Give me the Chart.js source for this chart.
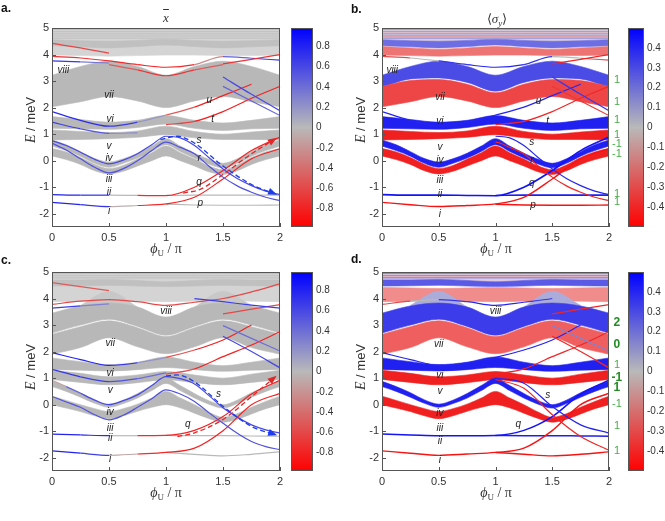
<!DOCTYPE html>
<html>
<head>
<meta charset="utf-8">
<script src="https://cdn.jsdelivr.net/npm/chart.js@4.4.0/dist/chart.umd.min.js"></script>
<style>
  body { margin: 0; background: #fff; width: 665px; height: 521px; position: relative; overflow: hidden;
         font-family: "Liberation Sans", Arial, sans-serif; color: #333; }
  .cv { position: absolute; }
  .t { position: absolute; white-space: nowrap; line-height: 1; }
  .pl { font: bold 12px "Liberation Sans", Arial, sans-serif; color: #111; }
  .ttl { font: 13px "Liberation Serif", serif; transform: translate(-50%, -50%); }
  .yt { font: 13px "Liberation Sans", Arial, sans-serif; transform: translate(-50%, -50%) rotate(-90deg); }
  .xt { font: 14px "Liberation Serif", serif; transform: translate(-50%, -50%); }
  .ser { font-family: "Liberation Serif", serif; font-style: italic; font-size: 14px; }
  sub { font-size: 9px; vertical-align: -3px; }
</style>
</head>
<body>
<div class="cv" style="left:0;top:0"><canvas id="pa" width="290" height="260"></canvas></div>
<div class="cv" style="left:291px;top:0"><canvas id="ca" width="48" height="260"></canvas></div>
<div class="cv" style="left:330px;top:0"><canvas id="pb" width="296" height="260"></canvas></div>
<div class="cv" style="left:628px;top:0"><canvas id="cb" width="37" height="260"></canvas></div>
<div class="cv" style="left:0;top:244px"><canvas id="pc" width="290" height="260"></canvas></div>
<div class="cv" style="left:291px;top:244px"><canvas id="cc" width="48" height="260"></canvas></div>
<div class="cv" style="left:330px;top:244px"><canvas id="pd" width="296" height="260"></canvas></div>
<div class="cv" style="left:628px;top:244px"><canvas id="cd" width="37" height="260"></canvas></div>

<div class="t pl" style="left:1px;top:1px">a.</div>
<div class="t pl" style="left:351px;top:2px">b.</div>
<div class="t pl" style="left:1px;top:253px">c.</div>
<div class="t pl" style="left:351px;top:252px">d.</div>

<div class="t ttl" style="left:166px;top:18px"><i style="text-decoration:overline">x</i></div>
<div class="t ttl" style="left:497px;top:19px">⟨<i>σ</i><sub><i>y</i></sub>⟩</div>

<div class="t yt" style="left:31px;top:120px"><span class="ser">E</span> / meV</div>
<div class="t yt" style="left:361px;top:120px"><span class="ser">E</span> / meV</div>
<div class="t yt" style="left:31px;top:367px"><span class="ser">E</span> / meV</div>
<div class="t yt" style="left:361px;top:367px"><span class="ser">E</span> / meV</div>

<div class="t xt" style="left:166px;top:249px"><i>ϕ</i><sub>U</sub> / π</div>
<div class="t xt" style="left:496px;top:249px"><i>ϕ</i><sub>U</sub> / π</div>
<div class="t xt" style="left:166px;top:493px"><i>ϕ</i><sub>U</sub> / π</div>
<div class="t xt" style="left:496px;top:493px"><i>ϕ</i><sub>U</sub> / π</div>

<script>
Chart.defaults.font.family = '"Liberation Sans", Arial, sans-serif';
Chart.defaults.font.size = 11;
Chart.defaults.color = '#333';

// ---- axes ----
const GRID = [0, 0.25, 0.5, 0.75, 1, 1.25, 1.5, 1.75, 2];
const FINE = [0, 0.125, 0.25, 0.375, 0.5, 0.625, 0.75, 0.875, 1, 1.125, 1.25, 1.375, 1.5, 1.625, 1.75, 1.875, 2];
const X_TICKS = [0, 0.5, 1, 1.5, 2];
const Y_TICKS = [-2, -1, 0, 1, 2, 3, 4, 5];
const BAR_TICKS_X = [-0.8, -0.6, -0.4, -0.2, 0, 0.2, 0.4, 0.6, 0.8];
const BAR_TICKS_S = [-0.4, -0.3, -0.2, -0.1, 0, 0.1, 0.2, 0.3, 0.4];
const XBAR_MAX = 0.98;
const SIG_MAX = 0.5;

// ---- top row spectrum (a, b): bands ----
const topContLo = [3.98, 3.96, 3.94, 3.96, 3.98, 3.98, 3.96, 3.96, 3.98];
const topContMid = [4.3, 4.25, 4.2, 4.25, 4.3, 4.25, 4.2, 4.25, 4.3];
const topContBlueLo = [4.33, 4.29, 4.25, 4.3, 4.36, 4.3, 4.25, 4.29, 4.33];
const topContBlueHi = [4.56, 4.52, 4.5, 4.53, 4.58, 4.53, 4.5, 4.52, 4.56];
const topContHi = [5.1, 5.1, 5.1, 5.1, 5.1, 5.1, 5.1, 5.1, 5.1];
const topStripes = [4.62, 4.7, 4.78, 4.86, 4.94];
const top8Hi = [3.22, 3.55, 3.75, 3.55, 3.22, 3.55, 3.75, 3.55, 3.22];
const top8Lo = [2.78, 3.08, 3.12, 2.95, 2.62, 2.95, 3.12, 3.08, 2.78];
const top7Hi = [2.8, 3.02, 3.06, 2.88, 2.56, 2.88, 3.06, 3.02, 2.8];
const top7Lo = [2.03, 2.22, 2.42, 2.25, 2.0, 2.25, 2.42, 2.22, 2.03];
const top6Hi = [1.66, 1.55, 1.45, 1.52, 1.7, 1.52, 1.42, 1.52, 1.66];
const top6Lo = [1.22, 1.2, 1.18, 1.25, 1.38, 1.22, 1.14, 1.2, 1.22];
const top5Hi = [1.16, 1.1, 1.06, 1.12, 1.3, 1.1, 1.0, 1.08, 1.16];
const top5Lo = [0.78, 0.8, 0.83, 0.88, 0.98, 0.86, 0.8, 0.8, 0.78];
const top4Hi = [0.78, 0.6, 0.34, 0.08, -0.05, 0.07, 0.28, 0.55, 0.83, 0.55, 0.28, 0.05, -0.1, 0.07, 0.34, 0.6, 0.78];
const top4Lo = [0.55, 0.38, 0.17, -0.1, -0.25, -0.1, 0.1, 0.35, 0.6, 0.35, 0.1, -0.13, -0.27, -0.1, 0.17, 0.38, 0.55];
const top3Hi = [0.46, 0.33, 0.12, -0.14, -0.3, -0.18, 0.06, 0.3, 0.55, 0.3, 0.06, -0.2, -0.34, -0.16, 0.12, 0.33, 0.46];
const top3Lo = [0.18, 0.04, -0.14, -0.38, -0.5, -0.4, -0.2, 0.0, 0.18, 0.0, -0.2, -0.42, -0.52, -0.38, -0.14, 0.04, 0.18];

// ---- top row spectrum: single levels ----
const topI = [-1.57, -1.66, -1.73, -1.69, -1.63, -1.38, -0.69, 0.07, 0.45];
const topIflat = [null, null, null, null, -1.64, -1.67, -1.68, -1.68, -1.67];
const topII = [-1.28, -1.3, -1.3, -1.31, -1.32, -1.0, -0.37, 0.38, 0.89];
const topIIflat = [null, null, null, null, -1.31, -1.3, -1.3, -1.3, -1.3];
const topV = [0.76, 0.57, 0.32, 0.05, -0.12, 0.02, 0.26, 0.6, 0.92, 0.86, 0.57, 0.12, -0.31, -0.67, -0.94, -1.15, -1.28];
const topIV = [0.66, 0.4, 0.07, -0.25, -0.46, -0.3, 0.0, 0.38, 0.7, 0.5, 0.26, -0.2, -0.62, -0.95, -1.19, -1.38, -1.51];
const topU = [1.85, 1.52, 1.3, 1.45, 1.72, 2.02, 2.45, 2.88, null];
const topVi2 = [1.45, 1.2, 1.03, 1.05, null, null, null, null, null];
const topT = [null, null, null, null, 1.36, 1.48, 1.85, 2.35, 2.8];
const topD1 = [null, null, null, null, null, null, 3.15, 2.5, 1.88];
const topD2 = [null, null, null, null, null, null, 2.8, 2.25, 1.7];
const topL1 = [3.93, 3.87, 3.76, 3.62, 3.52, 3.62, 3.92, 3.86, 3.79];
const topL2 = [null, null, 3.62, 3.42, 3.2, 3.42, 3.62, null, null];
const topL3 = [4.42, 4.25, 4.05, null, null, null, null, null, null];
const topL4 = [null, null, null, null, null, null, 3.65, 3.82, 4.0];
const topL5 = [3.76, 3.72, 3.68, null, null, null, null, null, null];
const topDashBlueX = [0.95, 1.1, 1.25, 1.5, 1.75, 1.95];
const topDashBlueY = [0.8, 0.92, 0.66, -0.2, -0.9, -1.24];
const topDashRedX = [1.15, 1.3, 1.5, 1.75, 1.95];
const topDashRedY = [-1.22, -1.08, -0.52, 0.26, 0.8];

// panel a colour values (x bar)
const xbarI = [0.8, 0.8, 0.6, -0.7, -0.8, -0.8, -0.8, -0.8, -0.8];
const xbarII = [0.8, 0.8, 0.7, -0.7, -0.8, -0.8, -0.8, -0.8, -0.8];
const xbarU = [0.75, 0.75, 0.75, 0.6, -0.2, -0.8, -0.8, -0.8, null];
const xbarVi2 = [0.7, 0.6, 0.4, 0.1, null, null, null, null, null];
const xbarT = [null, null, null, null, -0.4, -0.8, -0.8, -0.8, -0.8];
const xbarL1 = [-0.7, -0.7, -0.7, -0.8, -0.8, -0.7, 0.2, 0.7, 0.7];
const xbarL2 = [null, null, -0.3, -0.7, -0.7, -0.7, -0.3, null, null];
const xbarL5 = [0.8, 0.6, 0.1, null, null, null, null, null, null];
// panel b colour values (sigma y)
const sigV = [null, null, null, null, null, null, null, null, 0.4, 0.4, 0.4, 0.4, 0.4, 0.4, 0.4, 0.4, 0.4];
const sigIV = [null, null, null, null, null, null, null, null, -0.4, -0.4, -0.4, -0.4, -0.4, -0.4, -0.4, -0.4, -0.4];
const sigL1 = [-0.3, -0.3, 0.3, 0.4, 0.4, 0.4, 0.3, -0.3, -0.3];
const sigTopStripes = [0.2, -0.25, 0.15, -0.2, 0.1];
const windB = ['1', '1', '1', '1', '-1', '-1', '1', '1'];
const windBy = [3.03, 2.21, 1.52, 0.95, 0.64, 0.26, -1.25, -1.57];

// ---- bottom row spectrum (c, d): bands ----
const botContLo = [3.88, 3.9, 3.92, 3.9, 3.88, 3.9, 3.92, 3.9, 3.88];
const botContMid = [4.42, 4.4, 4.38, 4.4, 4.42, 4.4, 4.38, 4.4, 4.42];
const botContBlueLo = [4.47, 4.48, 4.5, 4.47, 4.45, 4.47, 4.5, 4.48, 4.47];
const botContBlueHi = [4.7, 4.7, 4.72, 4.68, 4.63, 4.68, 4.72, 4.7, 4.7];
const botContHi = [5.1, 5.1, 5.1, 5.1, 5.1, 5.1, 5.1, 5.1, 5.1];
const botStripes = [4.78, 4.86, 4.94];
const botCapLo = [null, 3.74, 3.83, 3.68, null, 3.68, 3.83, 3.74, null];
const botCapHi = [null, 3.74, 4.27, 3.68, null, 3.68, 4.27, 3.74, null];
const bot8Hi = [3.45, 3.72, 3.83, 3.68, 3.3, 3.68, 3.83, 3.72, 3.45];
const bot8Lo = [2.7, 3.0, 3.22, 2.95, 2.62, 2.95, 3.22, 3.0, 2.7];
const bot7Hi = [2.65, 2.94, 3.16, 2.9, 2.57, 2.9, 3.16, 2.94, 2.65];
const bot7Lo = [1.9, 2.15, 2.52, 2.18, 1.92, 2.18, 2.52, 2.15, 1.9];
const bot6Hi = [1.76, 1.62, 1.51, 1.6, 1.8, 1.6, 1.47, 1.6, 1.76];
const bot6Lo = [1.33, 1.3, 1.27, 1.32, 1.4, 1.32, 1.26, 1.3, 1.33];
const bot5Hi = [1.3, 1.18, 1.05, 1.12, 1.25, 1.12, 1.0, 1.15, 1.3];
const bot5Lo = [0.95, 0.84, 0.75, 0.83, 0.94, 0.83, 0.75, 0.84, 0.95];
const bot4Hi = [0.88, 0.68, 0.45, 0.18, 0.02, 0.17, 0.42, 0.72, 1.0, 0.72, 0.42, 0.15, 0.0, 0.17, 0.45, 0.68, 0.88];
const bot4Lo = [0.68, 0.5, 0.28, 0.05, -0.1, 0.04, 0.25, 0.53, 0.8, 0.53, 0.25, 0.02, -0.13, 0.04, 0.28, 0.5, 0.68];
const bot3Hi = [0.32, 0.16, 0.0, -0.15, -0.26, -0.15, 0.02, 0.25, 0.5, 0.25, 0.0, -0.28, -0.48, -0.34, -0.1, 0.12, 0.32];
const bot3Lo = [0.0, -0.13, -0.26, -0.42, -0.53, -0.42, -0.25, -0.1, 0.0, -0.12, -0.32, -0.52, -0.66, -0.55, -0.35, -0.15, 0.0];

// ---- bottom row spectrum: single levels ----
const botI = [-1.74, -1.83, -1.91, -1.86, -1.8, -1.64, -0.98, 0.0, 0.43];
const botIflat = [null, null, null, null, -1.8, -1.87, -1.93, -1.87, -1.78];
const botII = [-1.11, -1.14, -1.17, -1.17, -1.16, -0.97, -0.45, 0.4, 0.92];
const botIIflat = [null, null, null, null, -1.16, -1.17, -1.17, -1.18, -1.19];
const botV = [0.92, 0.68, 0.43, 0.17, 0.0, 0.15, 0.37, 0.72, 1.06, 0.98, 0.78, 0.35, -0.12, -0.47, -0.76, -0.95, -1.07];
const botIV = [0.31, 0.1, -0.1, -0.38, -0.57, -0.4, -0.1, 0.22, 0.56, 0.4, 0.12, -0.3, -0.7, -1.08, -1.39, -1.58, -1.7];
const botS = [null, null, null, null, 1.0, 0.81, -0.07, -0.76, -1.07];
const botR = [null, null, null, null, 0.95, 0.62, -0.38, -1.2, -1.72];
const botU = [1.96, 1.7, 1.48, 1.58, 1.78, 2.06, 2.44, 3.0, null];
const botVi2 = [1.33, 1.05, 0.87, 0.98, 1.2, null, null, null, null];
const botT = [null, null, null, null, 1.15, 1.35, 1.81, 2.25, 2.75];
const botD1 = [null, null, null, null, null, null, 2.58, 2.0, 1.39];
const botD2 = [null, null, null, null, null, null, 2.98, 2.5, 2.02];
const botL1 = [3.78, 3.9, 3.96, 3.88, 3.74, 3.86, 4.0, 4.25, 4.55];
const botL2 = [3.64, 3.72, 3.8, null, null, null, null, null, null];
const botL3 = [4.6, 4.45, 4.3, null, null, null, null, null, null];
const botL5 = [null, null, null, null, null, null, 3.42, 3.6, 3.77];
const botL6 = [null, null, null, null, null, 4.0, 3.88, 3.75, 3.64];
const botDashBlueX = [1.0, 1.1, 1.25, 1.5, 1.75, 1.95];
const botDashBlueY = [1.08, 1.12, 0.86, -0.06, -0.82, -1.12];
const botDashRedX = [1.1, 1.25, 1.5, 1.75, 1.95];
const botDashRedY = [-1.2, -1.06, -0.56, 0.3, 1.02];

// panel c colour values (x bar)
const xbarCI = [0.8, 0.8, 0.5, -0.7, -0.8, -0.8, -0.8, -0.8, -0.8];
const xbarCII = [0.8, 0.8, 0.7, -0.7, -0.8, -0.8, -0.8, -0.8, -0.8];
const xbarCV = [-0.5, 0.3, 0.6, 0.6, 0.6, 0.6, 0.6, 0.6, 0.6, 0.6, 0.6, 0.6, 0.6, 0.6, 0.6, 0.6, 0.6];
const xbarCU = [0.8, 0.8, 0.8, 0.7, -0.3, -0.8, -0.8, -0.8, null];
const xbarCVi2 = [0.7, 0.7, 0.6, 0.5, 0.3, null, null, null, null];
const xbarCT = [null, null, null, null, -0.3, -0.8, -0.8, -0.8, -0.8];
const xbarCL2 = [0.8, 0.5, 0.1, null, null, null, null, null, null];
// panel d colour values (sigma y)
const sigDL1 = [-0.3, -0.3, 0.3, 0.4, 0.4, 0.4, 0.3, null, null];
const sigBotStripes = [0.25, -0.3, 0.2];
const windD = ['2', '0', '1', '-1', '1', '-1', '1', '1'];
const windDy = [3.08, 2.26, 1.51, 1.01, 0.63, 0.01, -0.81, -1.75];
const windDbold = [true, true, false, true, true, false, false, false];

// ---- styles ----
const GRAY = 'rgb(184,184,184)';
const GRAY_MID = 'rgb(192,192,192)';
const GRAY_LIGHT = 'rgb(212,212,212)';
const RED = 'rgb(240,32,32)';
const BLUE = 'rgb(32,32,240)';
const ROMAN_FONT = 'italic 10px "Liberation Sans", Arial, sans-serif';

function cmap(v, vmax) {
  const t = Math.max(-1, Math.min(1, v / vmax));
  const end = t >= 0 ? [0, 0, 255] : [255, 0, 0];
  const a = Math.abs(t);
  const c = [185, 185, 185].map((g, i) => Math.round(g + (end[i] - g) * a));
  return 'rgb(' + c.join(',') + ')';
}

function pts(xs, ys) {
  return xs.map((x, i) => ({ x: x, y: ys[i] }));
}

function band(xs, lo, hi, color) {
  return [
    { data: pts(xs, lo), borderWidth: 0.6, borderColor: color, pointRadius: 0, fill: false },
    { data: pts(xs, hi), borderWidth: 0.6, borderColor: color, pointRadius: 0, fill: '-1', backgroundColor: color }
  ];
}

function curve(xs, ys, cols, vmax, width) {
  const colAt = i => Array.isArray(cols) ? cols[i] : cols;
  const first = Array.isArray(cols) ? cols.find(c => c != null) : cols;
  return {
    data: pts(xs, ys), pointRadius: 0, fill: false,
    borderWidth: width || 1.2,
    borderColor: cmap(first, vmax),
    segment: {
      borderColor: ctx => {
        const a = colAt(ctx.p0DataIndex), b = colAt(ctx.p1DataIndex);
        if (a == null || b == null) return 'rgba(0,0,0,0)';
        return cmap((a + b) / 2, vmax);
      }
    }
  };
}

function dashed(xs, ys, color) {
  return { data: pts(xs, ys), borderColor: color, borderWidth: 1.3, borderDash: [5, 3],
           pointRadius: 0, fill: false, arrowHead: color };
}

function makeFrame(withTicks) {
  return {
    id: 'frame',
    afterDraw(chart) {
      const { ctx, chartArea: a } = chart;
      ctx.save();
      ctx.strokeStyle = '#555';
      ctx.lineWidth = 1;
      ctx.strokeRect(Math.round(a.left) + 0.5, Math.round(a.top) + 0.5, Math.round(a.width) - 1, Math.round(a.height) - 1);
      if (withTicks) {
        const { x, y } = chart.scales;
        ctx.beginPath();
        X_TICKS.forEach(v => {
          const px = Math.round(x.getPixelForValue(v)) + 0.5;
          ctx.moveTo(px, a.bottom); ctx.lineTo(px, a.bottom - 4);
        });
        Y_TICKS.forEach(v => {
          const py = Math.round(y.getPixelForValue(v)) + 0.5;
          ctx.moveTo(a.left, py); ctx.lineTo(a.left + 4, py);
        });
        ctx.stroke();
      }
      ctx.restore();
    }
  };
}

function makeTexts(items) {
  return {
    id: 'texts',
    afterDraw(chart) {
      const { ctx, scales: { x, y } } = chart;
      items.forEach(it => {
        ctx.save();
        ctx.font = it.font;
        ctx.fillStyle = it.color;
        ctx.textAlign = 'center';
        ctx.textBaseline = 'middle';
        ctx.fillText(it.t, x.getPixelForValue(it.x), y.getPixelForValue(it.y));
        ctx.restore();
      });
    }
  };
}

const arrowPlugin = {
  id: 'arrows',
  afterDatasetsDraw(chart) {
    const ctx = chart.ctx;
    chart.data.datasets.forEach((ds, i) => {
      if (!ds.arrowHead) return;
      const p = chart.getDatasetMeta(i).data;
      const p1 = p[p.length - 1], p0 = p[p.length - 2];
      const ang = Math.atan2(p1.y - p0.y, p1.x - p0.x);
      ctx.save();
      ctx.translate(p1.x, p1.y);
      ctx.rotate(ang);
      ctx.beginPath();
      ctx.moveTo(3, 0); ctx.lineTo(-6, -3.5); ctx.lineTo(-6, 3.5); ctx.closePath();
      ctx.fillStyle = ds.arrowHead;
      ctx.fill();
      ctx.restore();
    });
  }
};

function roman(list) {
  return list.map(r => ({ t: r[0], x: r[1], y: r[2], font: ROMAN_FONT, color: '#222' }));
}

function winding(labels, ys, bold) {
  return labels.map((t, i) => ({
    t: t, x: 2.07, y: ys[i],
    font: (bold && bold[i] ? 'bold 12px' : '11px') + ' "Liberation Sans", Arial, sans-serif',
    color: bold && bold[i] ? 'rgb(35,140,35)' : 'rgb(70,175,70)'
  }));
}

function drawPanel(id, vmax, bands, curves, dashes, texts, padRight) {
  const ds = [];
  bands.forEach(b => ds.push(...band(b[0], b[1], b[2], b[3])));
  curves.forEach(c => ds.push(curve(c[0], c[1], c[2], vmax, c[3])));
  dashes.forEach(d => ds.push(dashed(d[0], d[1], d[2])));
  ds.forEach((d, i) => { d.order = ds.length - i; });
  new Chart(document.getElementById(id), {
    type: 'line',
    data: { datasets: ds },
    options: {
      responsive: false, animation: false, events: [],
      layout: { padding: { left: 0, top: 28, right: padRight, bottom: 0 } },
      elements: { line: { cubicInterpolationMode: 'monotone' }, point: { radius: 0 } },
      plugins: { legend: { display: false }, tooltip: { enabled: false } },
      scales: {
        x: {
          type: 'linear', min: 0, max: 2,
          afterBuildTicks: s => { s.ticks = X_TICKS.map(v => ({ value: v })); },
          afterFit: s => { s.height = 33; },
          grid: { display: false, drawTicks: false }, border: { display: false },
          ticks: { padding: 4, autoSkip: false, maxRotation: 0, callback: v => String(v) }
        },
        y: {
          type: 'linear', min: -2.5, max: 5,
          afterBuildTicks: s => { s.ticks = Y_TICKS.map(v => ({ value: v })); },
          afterFit: s => { s.width = 52; },
          grid: { display: false, drawTicks: false }, border: { display: false },
          ticks: { padding: 3, autoSkip: false, callback: v => String(v) }
        }
      }
    },
    plugins: [makeFrame(true), makeTexts(texts), arrowPlugin]
  });
}

function drawBar(id, vmax, ticks, width) {
  new Chart(document.getElementById(id), {
    type: 'bar',
    data: {
      labels: [''],
      datasets: [{
        data: [[-vmax, vmax]], borderWidth: 0, barPercentage: 1, categoryPercentage: 1,
        backgroundColor: ctx => {
          const a = ctx.chart.chartArea;
          if (!a) return GRAY;
          const g = ctx.chart.ctx.createLinearGradient(0, a.bottom, 0, a.top);
          g.addColorStop(0, 'rgb(255,0,0)');
          g.addColorStop(0.5, 'rgb(185,185,185)');
          g.addColorStop(1, 'rgb(0,0,255)');
          return g;
        }
      }]
    },
    options: {
      responsive: false, animation: false, events: [],
      layout: { padding: { left: 0, top: 28, right: 0, bottom: 33 } },
      plugins: { legend: { display: false }, tooltip: { enabled: false } },
      scales: {
        x: { display: false },
        y: {
          position: 'right', min: -vmax, max: vmax,
          afterBuildTicks: s => { s.ticks = ticks.map(v => ({ value: v })); },
          afterFit: s => { s.width = width; },
          grid: { display: false, drawTicks: false }, border: { display: false },
          ticks: { padding: 3, font: { size: 10 }, callback: v => String(v) }
        }
      }
    },
    plugins: [makeFrame(false)]
  });
}

function stripes(levels, cols) {
  return levels.map((l, i) => [[0, 2], [l, l], cols[i], 0.8]);
}

// ---- panel a ----
drawPanel('pa', XBAR_MAX,
  [
    [GRID, topContLo, topContHi, GRAY_LIGHT],
    [GRID, topContBlueLo, topContBlueHi, GRAY_MID],
    [GRID, top7Lo, top8Hi, GRAY],
    [GRID, top6Lo, top6Hi, GRAY],
    [GRID, top5Lo, top5Hi, GRAY],
    [FINE, top4Lo, top4Hi, GRAY],
    [FINE, top3Lo, top3Hi, GRAY]
  ],
  stripes(topStripes, [0, 0, 0, 0, 0]).concat([
    [GRID, topIflat, 0],
    [GRID, topIIflat, 0],
    [GRID, topI, xbarI],
    [GRID, topII, xbarII],
    [FINE, topV, 0.6],
    [FINE, topIV, 0.55],
    [GRID, topU, xbarU],
    [GRID, topVi2, xbarVi2],
    [GRID, topT, xbarT],
    [GRID, topD1, 0.6],
    [GRID, topD2, 0.45],
    [GRID, topL1, xbarL1],
    [GRID, topL2, xbarL2],
    [GRID, topL3, -0.6],
    [GRID, topL4, -0.7],
    [GRID, topL5, xbarL5]
  ]),
  [[topDashBlueX, topDashBlueY, 'rgb(30,60,235)'], [topDashRedX, topDashRedY, 'rgb(225,40,40)']],
  roman([['viii', 0.1, 3.42], ['vii', 0.5, 2.48], ['vi', 0.51, 1.56], ['v', 0.5, 0.56], ['iv', 0.5, 0.08],
         ['iii', 0.5, -0.71], ['ii', 0.5, -1.18], ['i', 0.5, -1.9], ['u', 1.38, 2.29], ['t', 1.41, 1.57],
         ['s', 1.29, 0.78], ['r', 1.29, 0.08], ['q', 1.29, -0.8], ['p', 1.3, -1.62]]),
  10);
drawBar('ca', XBAR_MAX, BAR_TICKS_X, 26);

// ---- panel b ----
drawPanel('pb', SIG_MAX,
  [
    [GRID, topContBlueHi, topContHi, 'rgb(218,205,222)'],
    [GRID, topContBlueLo, topContBlueHi, 'rgb(110,110,228)'],
    [GRID, topContLo, topContMid, 'rgb(238,115,115)'],
    [GRID, top8Lo, top8Hi, 'rgb(75,75,230)'],
    [GRID, top7Lo, top7Hi, 'rgb(238,70,70)'],
    [GRID, top6Lo, top6Hi, BLUE],
    [GRID, top5Lo, top5Hi, RED],
    [FINE, top4Lo, top4Hi, BLUE],
    [FINE, top3Lo, top3Hi, RED]
  ],
  stripes(topStripes, sigTopStripes).concat([
    [GRID, topIflat, -0.45, 1.4],
    [GRID, topIIflat, 0.42, 1.6],
    [GRID, topI, -0.45, 1.4],
    [GRID, topII, 0.45, 1.6],
    [FINE, topV, sigV],
    [FINE, topIV, sigIV],
    [GRID, topU, 0.4],
    [GRID, topT, -0.4],
    [GRID, topD1, 0.35],
    [GRID, topD2, -0.35],
    [GRID, topL1, sigL1],
    [GRID, topL4, -0.4]
  ]),
  [],
  roman([['viii', 0.09, 3.4], ['vii', 0.51, 2.41], ['vi', 0.51, 1.5], ['v', 0.51, 0.52], ['iv', 0.51, 0.02],
         ['iii', 0.51, -0.74], ['ii', 0.51, -1.27], ['i', 0.51, -2.0], ['u', 1.38, 2.23], ['t', 1.46, 1.5],
         ['s', 1.32, 0.71], ['r', 1.32, 0.02], ['q', 1.32, -0.86], ['p', 1.33, -1.68]])
    .concat(winding(windB, windBy, null)),
  17);
drawBar('cb', SIG_MAX, BAR_TICKS_S, 21);

// ---- panel c ----
drawPanel('pc', XBAR_MAX,
  [
    [GRID, botContLo, botContHi, GRAY_LIGHT],
    [GRID, botContBlueLo, botContBlueHi, GRAY_MID],
    [GRID, botCapLo, botCapHi, 'rgb(200,200,200)'],
    [GRID, bot8Lo, bot8Hi, GRAY],
    [GRID, bot7Lo, bot7Hi, GRAY],
    [GRID, bot6Lo, bot6Hi, GRAY],
    [GRID, bot5Lo, bot5Hi, GRAY],
    [FINE, bot4Lo, bot4Hi, GRAY],
    [FINE, bot3Lo, bot3Hi, GRAY]
  ],
  stripes(botStripes, [0, 0, 0]).concat([
    [GRID, botIflat, 0],
    [GRID, botIIflat, 0],
    [GRID, botI, xbarCI],
    [GRID, botII, xbarCII],
    [FINE, botV, xbarCV],
    [FINE, botIV, 0.55],
    [GRID, botU, xbarCU],
    [GRID, botVi2, xbarCVi2],
    [GRID, botT, xbarCT],
    [GRID, botD1, 0.6],
    [GRID, botD2, 0.4],
    [GRID, botL1, -0.6],
    [GRID, botL2, xbarCL2],
    [GRID, botL3, -0.5],
    [GRID, botL5, -0.6],
    [GRID, botL6, 0.65]
  ]),
  [[botDashBlueX, botDashBlueY, 'rgb(30,60,235)'], [botDashRedX, botDashRedY, 'rgb(225,40,40)']],
  roman([['viii', 1.0, 3.52], ['vii', 0.51, 2.33], ['vi', 0.51, 1.17], ['v', 0.51, 0.53], ['iv', 0.51, -0.28],
         ['iii', 0.51, -0.87], ['ii', 0.51, -1.27], ['i', 0.51, -2.06], ['s', 1.46, 0.38], ['q', 1.19, -0.75]]),
  10);
drawBar('cc', XBAR_MAX, BAR_TICKS_X, 26);

// ---- panel d ----
drawPanel('pd', SIG_MAX,
  [
    [GRID, botContBlueHi, botContHi, 'rgb(222,202,222)'],
    [GRID, botContBlueLo, botContBlueHi, 'rgb(90,90,230)'],
    [GRID, botContLo, botContMid, 'rgb(240,140,140)'],
    [GRID, botCapLo, botCapHi, 'rgb(172,172,218)'],
    [GRID, bot8Lo, bot8Hi, 'rgb(60,60,235)'],
    [GRID, bot7Lo, bot7Hi, 'rgb(240,95,95)'],
    [GRID, bot6Lo, bot6Hi, BLUE],
    [GRID, bot5Lo, bot5Hi, RED],
    [FINE, bot4Lo, bot4Hi, BLUE],
    [FINE, bot3Lo, bot3Hi, RED]
  ],
  stripes(botStripes, sigBotStripes).concat([
    [GRID, botIflat, -0.45, 1.4],
    [GRID, botIIflat, 0.42, 1.5],
    [GRID, botI, -0.45, 1.4],
    [GRID, botII, 0.45, 1.5],
    [GRID, botS, 0.4],
    [GRID, botR, -0.4],
    [GRID, botU, 0.4],
    [GRID, botT, -0.4],
    [GRID, botD1, -0.4],
    [GRID, botD2, 0.15],
    [GRID, botL1, sigDL1],
    [GRID, botL5, -0.4]
  ]),
  [],
  roman([['viii', 1.0, 3.52], ['vii', 0.5, 2.26], ['vi', 0.51, 1.1], ['v', 0.51, 0.51], ['iv', 0.51, -0.33],
         ['iii', 0.51, -0.87], ['ii', 0.51, -1.37], ['i', 0.51, -2.09], ['s', 1.46, 0.35], ['q', 1.2, -0.75]])
    .concat(winding(windD, windDy, windDbold)),
  17);
drawBar('cd', SIG_MAX, BAR_TICKS_S, 21);
</script>
</body>
</html>
